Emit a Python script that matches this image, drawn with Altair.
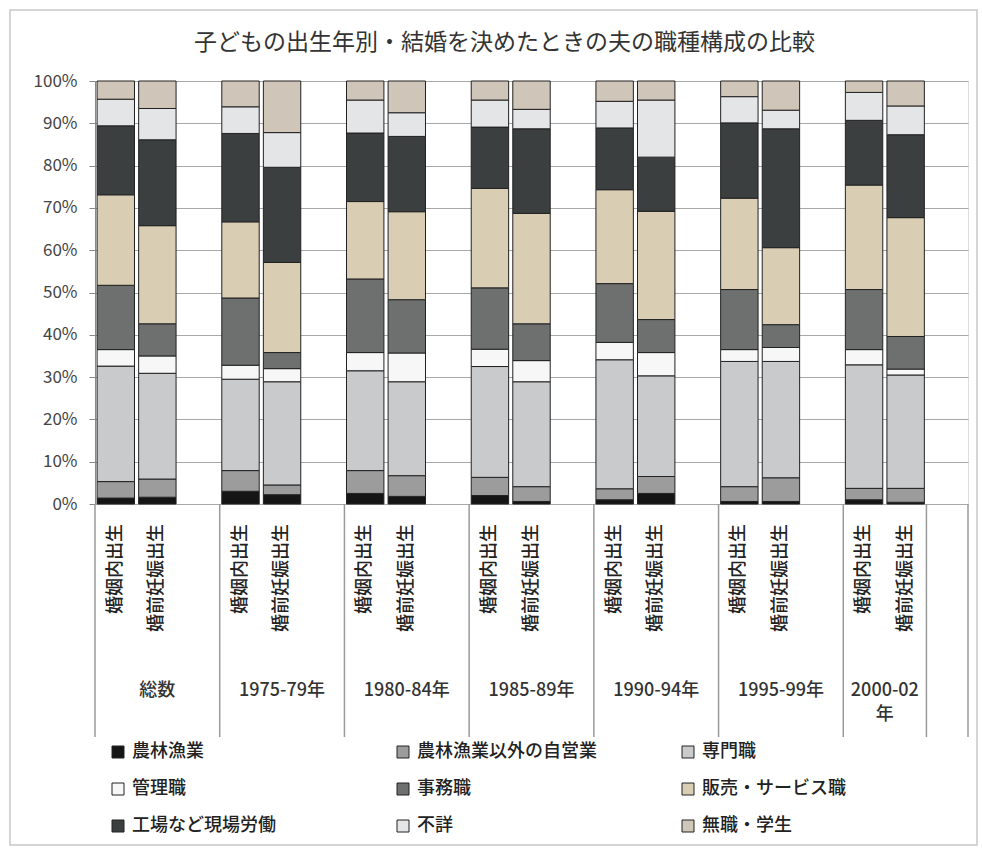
import altair as alt
import pandas as pd

FONT = "Noto Sans CJK JP"

title_text = "子どもの出生年別・結婚を決めたときの夫の職種構成の比較"

categories = ["農林漁業", "農林漁業以外の自営業", "専門職", "管理職", "事務職",
              "販売・サービス職", "工場など現場労働", "不詳", "無職・学生"]
colors = ["#151515", "#9c9c9c", "#c9cacc", "#f7f7f7", "#6e6f6f",
          "#d9cdb4", "#3c3f3f", "#e4e5e7", "#cfc5b9"]

groups = ["総数", "1975-79年", "1980-84年", "1985-89年", "1990-94年", "1995-99年", "2000-02\n年"]
bar_types = ["婚姻内出生", "婚前妊娠出生"]

# percent values, 14 bars each (group x bar type), bottom to top order
v_farm     = [1.4, 1.6, 3.0, 2.2, 2.5, 1.8, 2.0, 0.6, 1.0, 2.5, 0.6, 0.6, 1.0, 0.4]
v_self     = [3.9, 4.3, 4.9, 2.3, 5.4, 4.9, 4.3, 3.5, 2.6, 4.0, 3.5, 5.6, 2.7, 3.3]
v_prof     = [27.3, 25.0, 21.6, 24.4, 23.6, 22.2, 26.2, 24.8, 30.5, 23.8, 29.6, 27.5, 29.2, 26.8]
v_manager  = [3.9, 4.1, 3.3, 3.1, 4.3, 6.8, 4.1, 5.0, 4.1, 5.5, 2.8, 3.3, 3.6, 1.4]
v_clerical = [15.2, 7.6, 15.9, 3.8, 17.4, 12.6, 14.5, 8.7, 13.9, 7.8, 14.2, 5.4, 14.2, 7.7]
v_sales    = [21.4, 23.2, 18.0, 21.3, 18.3, 20.8, 23.5, 26.1, 22.2, 25.6, 21.6, 18.2, 24.7, 28.1]
v_factory  = [16.3, 20.3, 20.9, 22.5, 16.2, 17.8, 14.5, 20.0, 14.6, 12.8, 17.8, 28.1, 15.3, 19.6]
v_unknown  = [6.3, 7.4, 6.3, 8.2, 7.8, 5.6, 6.4, 4.6, 6.3, 13.5, 6.2, 4.4, 6.6, 6.8]
v_nojob    = [4.3, 6.5, 6.1, 12.2, 4.5, 7.5, 4.5, 6.7, 4.8, 4.5, 3.7, 6.9, 2.7, 5.9]

series = [v_farm, v_self, v_prof, v_manager, v_clerical, v_sales, v_factory, v_unknown, v_nojob]

# category slots: each group = 2 bars + 1 blank slot; 21 slots in total
slots_per_group = 3
n_slots = len(groups) * slots_per_group
group_edges = [g * slots_per_group for g in range(len(groups))] + [n_slots - 1, n_slots]

rows = []
for b in range(len(groups) * 2):
    g, j = divmod(b, 2)
    slot = g * slots_per_group + j
    for k, cat in enumerate(categories):
        rows.append({"slot": slot, "category": cat, "order": k, "value": series[k][b]})
bars_df = pd.DataFrame(rows)

sub_df = pd.DataFrame([
    {"slot": g * slots_per_group + j, "label": bar_types[j]}
    for g in range(len(groups)) for j in range(2)
])
grp_df = pd.DataFrame([
    {"lo": group_edges[g], "hi": group_edges[g + 1], "label": groups[g]}
    for g in range(len(groups))
])
edge_df = pd.DataFrame({"pos": group_edges})

W, H = 873, 423

xscale = alt.Scale(domain=[0, n_slots], nice=False, zero=False)

bars = alt.Chart(bars_df).transform_stack(
    stack="value", groupby=["slot"], as_=["y0", "y1"], offset="normalize",
    sort=[alt.SortField("order", order="ascending")]
).transform_calculate(
    x0="datum.slot + 0.05", x1="datum.slot + 0.95"
).mark_bar(stroke="#222222", strokeWidth=1).encode(
    x=alt.X("x0:Q", scale=xscale, axis=None),
    x2="x1:Q",
    y=alt.Y("y0:Q", scale=alt.Scale(domain=[0, 1], nice=False),
            axis=alt.Axis(format=".0%", values=[i / 10 for i in range(11)], title=None,
                          grid=True, gridColor="#a8a8a8", gridWidth=1,
                          domainColor="#888888", tickColor="#888888", tickSize=6,
                          labelFontSize=17, labelColor="#444444", labelFont=FONT,
                          labelPadding=12)),
    y2="y1:Q",
    color=alt.Color("category:N", scale=alt.Scale(domain=categories, range=colors),
                    legend=alt.Legend(title=None, orient="none", legendX=14, legendY=662,
                                      direction="horizontal",
                                      columns=3, gridAlign="all", columnPadding=82,
                                      rowPadding=19, symbolType="square", symbolSize=144,
                                      symbolStrokeColor="#222222", symbolStrokeWidth=1,
                                      labelFontSize=18, labelFont=FONT, labelColor="#222222",
                                      labelFontWeight=500,
                                      labelLimit=400, labelOffset=5, padding=0)),
    order=alt.Order("order:Q"),
)

dividers = alt.Chart(edge_df).mark_rule(color="#9a9a9a", strokeWidth=1.5).encode(
    x=alt.X("pos:Q", scale=xscale),
    y=alt.value(H), y2=alt.value(H + 233),
)

sub_labels = alt.Chart(sub_df).transform_calculate(
    cx="datum.slot + 0.5"
).mark_text(angle=270, align="right", baseline="middle", fontSize=18, font=FONT,
            fontWeight=500, color="#222222").encode(
    x=alt.X("cx:Q", scale=xscale),
    y=alt.value(H + 20),
    text="label:N",
)

grp_labels = alt.Chart(grp_df).transform_calculate(
    cx="(datum.lo + datum.hi) / 2"
).mark_text(align="center", baseline="top", fontSize=18, font=FONT, color="#333333",
            fontWeight=500, lineBreak="\n", lineHeight=24).encode(
    x=alt.X("cx:Q", scale=xscale),
    y=alt.value(H + 178),
    text="label:N",
)

frame = alt.Chart(pd.DataFrame({"f": [0]})).mark_rect(
    fill="transparent", stroke="#c8c8c8", strokeWidth=1.5
).encode(
    x=alt.value(-85), x2=alt.value(W + 9), y=alt.value(-71), y2=alt.value(H + 341),
)

chart = alt.layer(frame, bars, dividers, sub_labels, grp_labels).properties(
    width=W, height=H,
    autosize=alt.AutoSizeParams(type="none"),
    padding={"left": 95, "top": 81, "right": 14, "bottom": 351},
    title=alt.Title(title_text, fontSize=23, font=FONT, fontWeight="normal",
                    color="#333333", anchor="middle", dx=-27, offset=-46),
).configure_view(stroke="#888888", strokeWidth=1).configure(background="white")

chart.save("out.html", embed_options={"renderer": "svg", "actions": False})
